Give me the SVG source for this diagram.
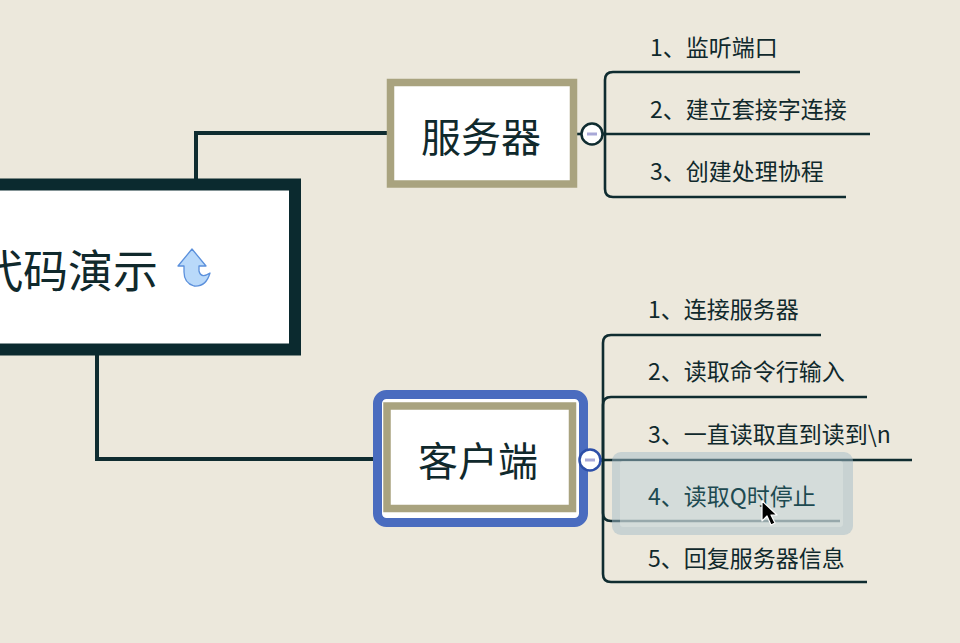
<svg xmlns="http://www.w3.org/2000/svg" width="960" height="643" viewBox="0 0 960 643">
<style>
text{font-family:"Noto Sans CJK SC","Noto Sans",sans-serif;fill:#10292c}
.item{font-size:23px}
.line{fill:none;stroke:#0f2c30;stroke-width:2.6}
.main{fill:none;stroke:#0f2c30;stroke-width:4}
.olive{fill:#fff;stroke:#a9a37f;stroke-width:7.5}
</style>
<rect width="960" height="643" fill="#ece8dc"/>
<g id="connectors">
<path class="main" d="M196 180 V133 H390"/>
<path class="main" d="M97 354 V459 H386"/>
<path class="line" d="M576 134 H582"/>
<path class="line" d="M601 134 H870"/>
<path class="line" d="M600 134 H605 V80 Q605 72 613 72 H800"/>
<path class="line" d="M600 134 H605 V189 Q605 197 613 197 H846"/>
<path class="line" d="M577 460 H580"/>
<path class="line" d="M600 460 H912"/>
<path class="line" d="M600 460 H603 V343 Q603 335 611 335 H821"/>
<path class="line" d="M600 460 H603 V405 Q603 397 611 397 H867"/>
<path class="line" d="M600 460 H603 V513 Q603 521 611 521 H840"/>
<path class="line" d="M600 460 H603 V574 Q603 582 611 582 H867"/>
</g>
<g id="root">
<rect x="-20" y="184.5" width="315" height="165" fill="#fff" stroke="#0b2a2f" stroke-width="12"/>
<text x="158" y="288" font-size="45" text-anchor="end">代码演示</text>
<path d="M192 249 L206 266 L199 266 L199 271 Q201 279 210 273 Q206 287 194 286 Q184 283 184 272 L184 266 L178 266 Z" fill="#b9d9fa" stroke="#5b90dc" stroke-width="1.3" stroke-linejoin="round"/>
</g>
<g id="server">
<rect class="olive" x="390.5" y="82.5" width="183" height="101.5"/>
<text x="481" y="152" font-size="40" text-anchor="middle">服务器</text>
<circle cx="592" cy="134" r="10.5" fill="#fff" stroke="#0f2c30" stroke-width="2.5"/>
<rect x="587" y="132.5" width="10" height="3" fill="#a9a9d8"/>
</g>
<g id="server-items">
<text class="item" x="650" y="56">1、监听端口</text>
<text class="item" x="650" y="118">2、建立套接字连接</text>
<text class="item" x="650" y="180">3、创建处理协程</text>
</g>
<g id="client">
<rect x="377.5" y="394.5" width="206" height="128" rx="9" fill="#fff" stroke="#4a6cbf" stroke-width="9"/>
<rect class="olive" x="387" y="406" width="185.5" height="102.5"/>
<text x="478" y="476" font-size="40" text-anchor="middle">客户端</text>
<circle cx="590" cy="460" r="10.5" fill="#fff" stroke="#2d4fa8" stroke-width="2.5"/>
<rect x="585" y="458.5" width="10" height="3" fill="#a9a9d8"/>
</g>
<g id="client-items">
<text class="item" x="648" y="318">1、连接服务器</text>
<text class="item" x="648" y="380">2、读取命令行输入</text>
<text class="item" x="648" y="443">3、一直读取直到读到\n</text>
<rect x="612" y="452" width="241" height="83" rx="9" fill="#a3bcc8" fill-opacity="0.5"/>
<rect x="620" y="461" width="223" height="66" rx="3" fill="#e2e9e4" fill-opacity="0.45"/>
<text class="item" x="648" y="505" style="fill:#1d4a51">4、读取Q时停止</text>
<text class="item" x="648" y="567">5、回复服务器信息</text>
</g>
<path d="M762 501 L762 521 L767 516 L771 525 L775 523 L771 515 L777 515 Z" fill="#000" stroke="#fff" stroke-width="1.2" stroke-linejoin="round"/>
</svg>
